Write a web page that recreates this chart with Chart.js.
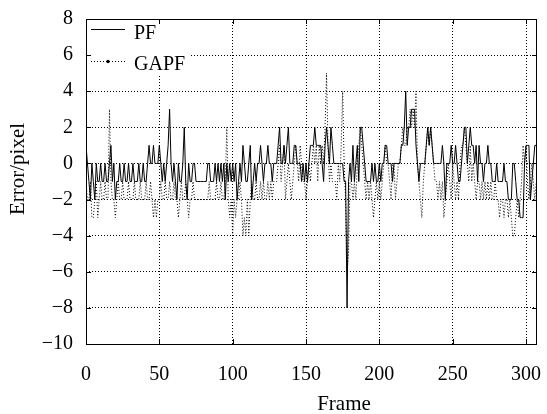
<!DOCTYPE html>
<html>
<head>
<meta charset="utf-8">
<script src="https://cdn.jsdelivr.net/npm/chart.js@4.4.1/dist/chart.umd.min.js"></script>
<style>
  html, body { margin: 0; padding: 0; background: #fff; }
  #chart { display: block; }
</style>
</head>
<body>
<canvas id="chart" width="547" height="414"></canvas>
<script>
// tracking error per frame (integer pixels)
const pfErrors = [
  1, 0, -1, -2, 0, -1, -2, 0, -1, -1,
  0, -1, -1, 0, -1, -1, 0, 1, -1, 0,
  -2, -1, -1, 0, -1, -1, 0, -1, -1, 0,
  -1, -1, 0, -1, -1, -1, 0, -1, -1, 0,
  -1, -1, 0, 1, 0, 0, 1, 0, 0, 0,
  1, 0, -1, 0, -1, 0, 1, 3, 0, -1,
  0, -1, -2, 0, -1, -1, 0, 2, -1, -2,
  0, -1, -1, 0, 0, -1, -1, -1, -1, -1,
  -1, -1, -1, 0, 0, -1, -1, -1, 0, -1,
  0, -1, 0, -1, 0, -2, 0, -1, 0, -1,
  0, -1, 0, -2, -1, 0, -1, 1, 0, -1,
  -1, 0, 1, -2, -1, 0, -1, 0, 0, 1,
  0, -1, 0, 0, 1, 0, 0, -1, 0, 0,
  0, 1, 2, 0, 0, 1, 0, 1, 2, 0,
  0, 0, 1, 1, 0, 0, 0, -1, 0, -1,
  0, -1, 0, 1, 1, 1, 2, 1, 1, 1,
  1, 0, -1, 1, 2, 1, 0, 2, 1, 0,
  0, 0, 0, 0, 0, 0, -1, -1, -8, -1,
  0, -1, 1, -1, 0, 1, -1, 2, 2, 1,
  0, -1, -1, -1, -1, 0, -1, 0, -1, -1,
  0, -1, 0, 0, 1, 1, 0, 0, 0, -1,
  0, 0, 0, 0, 0, 1, 1, 2, 4, 1,
  2, 2, 3, 3, 3, 1, 0, -1, 0, 0,
  0, 0, 1, 2, 1, 2, 1, 0, 0, 0,
  0, 0, 0, 1, 0, -2, 0, 0, 0, 1,
  0, 0, 1, 0, -1, -1, 0, 1, 2, 2,
  0, 1, 2, 1, 1, 0, 1, -1, 1, 0,
  0, -1, 0, 0, 1, 0, 0, -1, -1, -1,
  0, -1, -1, -1, -1, 0, -1, -1, -2, -2,
  -2, 0, 0, -1, -2, -2, -3, -3, -3, 0,
  1, 1, 1, -2, -1, 0, 1, 1
];

const gapfErrors = [
  -1, -2, -2, -1, -3, -3, -2, -1, -3, -2,
  -1, -2, -2, -1, -2, -2, 3, -1, -2, -2,
  -3, -2, -1, -2, -2, -1, -2, -2, -2, -1,
  -2, -2, -2, -1, -2, -2, -2, -1, -2, -2,
  -2, -1, -2, -2, -1, -2, -3, -2, -3, -2,
  -2, -1, -2, -2, -1, -2, -2, -1, -2, -2,
  -1, -2, -2, -3, -2, -1, -2, -2, -1, -2,
  -3, -2, -2, -1, -2, -2, -2, -2, -2, -2,
  -2, -2, -2, -2, -1, -2, -2, -2, -2, -1,
  -2, -2, -1, -2, -2, -1, 2, -2, -3, -2,
  -4, -2, -3, -2, -2, -1, -2, -4, -3, -4,
  -2, -4, -2, -1, -2, -2, -1, -2, -2, -1,
  -2, -1, -2, -2, -1, -2, -1, -2, -1, -1,
  -1, 0, 1, -1, 0, 1, -2, -1, 0, -1,
  -2, -1, 0, 1, 0, -1, 1, 0, -1, -1,
  -2, -1, 0, -1, 0, 1, 0, 1, -1, 1,
  0, 1, 0, 2, 5, 1, -1, 0, -1, -1,
  -1, -2, 0, -1, 1, 4, 0, -2, -6, -5,
  -1, -1, -2, -1, -2, 0, 1, 2, 1, 0,
  -1, -2, -1, -2, -1, -2, -3, -2, -1, -2,
  -1, -2, -1, 0, 1, 0, 0, -1, -2, 0,
  0, -2, -1, 0, 0, 1, 2, 1, 1, 2,
  2, 3, 2, 3, 2, 4, 0, -1, -2, -3,
  -1, 0, 1, 2, 1, 2, 1, 0, -1, -1,
  -2, -1, -2, -1, -3, -2, -1, 0, -1, -2,
  0, -1, -2, -1, -2, 0, 1, 1, 2, 1,
  0, -1, 1, -1, 0, -1, -2, -1, -1, -2,
  -1, -2, -1, -2, -1, -2, -1, -2, -2, -1,
  -2, -2, -3, -2, -2, -3, -2, -2, -3, -2,
  -3, -4, -4, -3, -2, -3, -2, -1, 1, 0,
  1, -1, -2, -1, 0, -1, -2, -1
];

const seriesNames = ['PF', 'GAPF'];
const xTicks = [0, 50, 100, 150, 200, 250, 300];
const yTicks = [-10, -8, -6, -4, -2, 0, 2, 4, 6, 8];
const xTitle = 'Frame';
const yTitle = 'Error/pixel';

const FONT = '"Liberation Serif", "Times New Roman", serif';

const toPoints = arr => arr.map((v, i) => ({ x: i, y: v }));

// box, inward tick marks, legend and axis titles (MATLAB look)
const frame = {
  id: 'frame',
  beforeDatasetsDraw(chart) {
    // legend sits on a white patch that hides the grid
    const { ctx, chartArea: a } = chart;
    ctx.save();
    ctx.fillStyle = '#fff';
    ctx.fillRect(a.left + 1, a.top + 1, 102, 56);
    ctx.restore();
  },
  afterDraw(chart) {
    const { ctx, chartArea: a, scales } = chart;
    ctx.save();
    ctx.strokeStyle = '#000';
    ctx.lineWidth = 1;
    ctx.setLineDash([]);
    ctx.strokeRect(a.left + 0.5, a.top + 0.5, a.right - a.left - 1, a.bottom - a.top);

    const len = 5;
    ctx.beginPath();
    xTicks.forEach(t => {
      const px = Math.round(scales.x.getPixelForValue(t)) + 0.5;
      ctx.moveTo(px, a.bottom); ctx.lineTo(px, a.bottom - len);
      ctx.moveTo(px, a.top); ctx.lineTo(px, a.top + len);
    });
    yTicks.forEach(t => {
      const py = Math.round(scales.y.getPixelForValue(t)) + 0.5;
      ctx.moveTo(a.left, py); ctx.lineTo(a.left + len, py);
      ctx.moveTo(a.right, py); ctx.lineTo(a.right - len, py);
    });
    ctx.stroke();

    // legend
    ctx.font = '20px ' + FONT;
    ctx.fillStyle = '#000';
    ctx.textBaseline = 'alphabetic';
    ctx.textAlign = 'left';
    ctx.beginPath();
    ctx.moveTo(91, 29.5); ctx.lineTo(125, 29.5);
    ctx.stroke();
    ctx.fillText(seriesNames[0], 134, 39);
    ctx.setLineDash([1, 2]);
    ctx.beginPath();
    ctx.moveTo(91, 61.5); ctx.lineTo(125, 61.5);
    ctx.stroke();
    ctx.setLineDash([]);
    ctx.beginPath();
    ctx.arc(108, 61.5, 1.7, 0, Math.PI * 2);
    ctx.fill();
    ctx.fillText(seriesNames[1], 134, 70);

    // axis titles
    ctx.font = '21px ' + FONT;
    ctx.textAlign = 'center';
    ctx.fillText(xTitle, 344, 410);
    ctx.translate(24, 169);
    ctx.rotate(-Math.PI / 2);
    ctx.fillText(yTitle, 0, 0);
    ctx.restore();
  }
};

new Chart(document.getElementById('chart'), {
  type: 'line',
  data: {
    datasets: [
      {
        label: seriesNames[0],
        data: toPoints(pfErrors),
        borderColor: '#000',
        borderWidth: 1,
        pointRadius: 0,
        tension: 0
      },
      {
        label: seriesNames[1],
        data: toPoints(gapfErrors),
        borderColor: '#000',
        borderWidth: 1,
        borderDash: [1, 2],
        pointRadius: 0,
        tension: 0
      }
    ]
  },
  options: {
    responsive: false,
    animation: false,
    layout: { padding: { left: 0, right: 10, top: 19, bottom: 0 } },
    plugins: { legend: { display: false }, tooltip: { enabled: false } },
    scales: {
      x: {
        type: 'linear',
        min: 0,
        max: 307.5,
        afterFit: s => {
          s.height = 70;
          s.paddingLeft = 0;
          s.paddingRight = 0;
        },
        afterBuildTicks: s => { s.ticks = xTicks.map(v => ({ value: v })); },
        ticks: { maxRotation: 0, padding: 19, color: '#000', font: { family: FONT, size: 20 } },
        grid: { color: '#000', borderDash: [1, 2], drawTicks: false },
        border: { display: false, dash: [1, 2] }
      },
      y: {
        min: -10,
        max: 8,
        afterFit: s => {
          s.width = 86;
          s.paddingTop = 0;
          s.paddingBottom = 0;
        },
        afterBuildTicks: s => { s.ticks = yTicks.map(v => ({ value: v })); },
        ticks: {
          padding: 13,
          color: '#000',
          font: { family: FONT, size: 20 },
          callback: v => String(v).replace('-', '\u2212')
        },
        grid: { color: '#000', borderDash: [1, 2], drawTicks: false },
        border: { display: false, dash: [1, 2] }
      }
    }
  },
  plugins: [frame]
});
</script>
</body>
</html>
